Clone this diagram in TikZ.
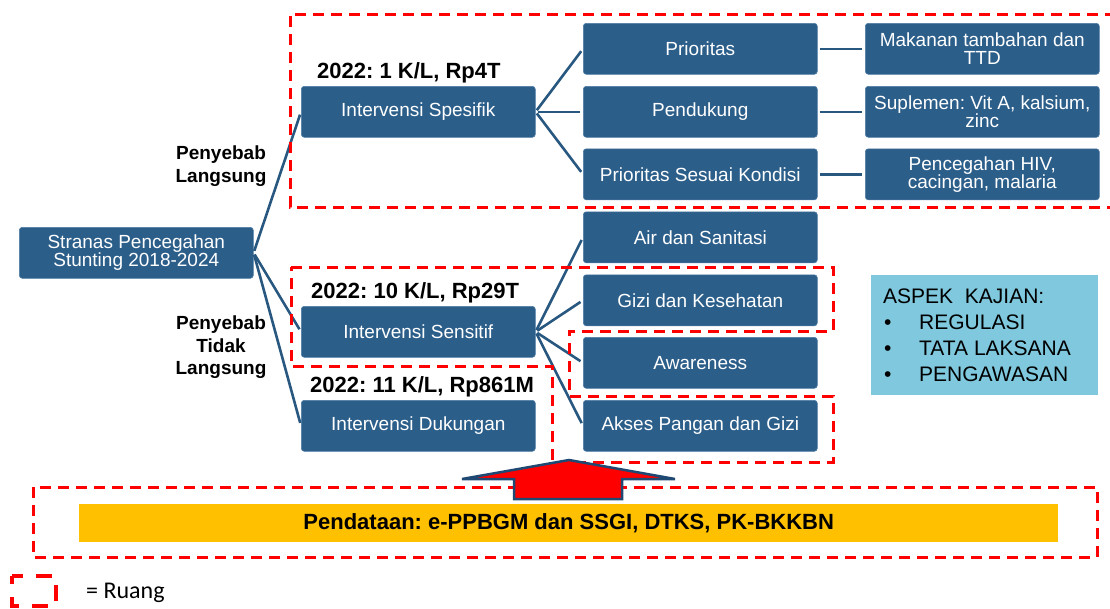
\documentclass[tikz,border=0pt]{standalone}
\usepackage{fontspec}
\setmainfont{Liberation Sans}
\newfontfamily\carlitofont{Carlito}
\frenchspacing
\definecolor{boxblue}{RGB}{44,94,138}
\definecolor{boxedge}{RGB}{78,124,164}
\definecolor{linkblue}{RGB}{40,88,128}
\definecolor{ruangred}{RGB}{255,0,0}
\definecolor{barorange}{RGB}{255,192,0}
\definecolor{aspekblue}{RGB}{127,200,221}
\definecolor{arrowblue}{RGB}{31,73,115}
\begin{document}
\begin{tikzpicture}[x=1pt,y=-1pt,
  box/.style={rectangle, rounded corners=3pt, fill=boxblue, draw=boxedge, line width=0.6pt,
    minimum width=234pt, minimum height=51pt, inner sep=0pt, text=white, align=center,
    font=\fontsize{19}{18}\selectfont, anchor=north west},
  link/.style={draw=linkblue, line width=2.6pt, shorten <=2pt, shorten >=3pt},
  ruang/.style={draw=ruangred, line width=3pt, dash pattern=on 11pt off 7pt},
  lbl/.style={font=\bfseries\fontsize{22}{24}\selectfont, anchor=base west, inner sep=0pt},
  cause/.style={font=\bfseries\fontsize{19}{22}\selectfont, anchor=base, inner sep=0pt},
  aspt/.style={font=\fontsize{21}{24}\selectfont, anchor=base west, inner sep=0pt}]
\useasboundingbox (0,0) rectangle (1110,608);

% nodes
\node[box] (root) at (19,227) {Stranas Pencegahan\\Stunting 2018-2024};
\node[box] (spes) at (301,86) {Intervensi Spesifik};
\node[box] (sens) at (301,306) {Intervensi Sensitif};
\node[box] (duk) at (301,400) {Intervensi Dukungan};
\node[box] (prio) at (583,23) {Prioritas};
\node[box] (pend) at (583,86) {Pendukung};
\node[box] (psk) at (583,148.5) {Prioritas Sesuai Kondisi};
\node[box] (air) at (583,211.5) {Air dan Sanitasi};
\node[box] (gizi) at (583,274.5) {Gizi dan Kesehatan};
\node[box] (aware) at (583,337) {Awareness};
\node[box] (akses) at (583,400) {Akses Pangan dan Gizi};
\node[box] (mak) at (865,23) {Makanan tambahan dan\\TTD};
\node[box] (supl) at (865,86) {Suplemen: Vit A, kalsium,\\zinc};
\node[box] (penc) at (865,148.5) {Pencegahan HIV,\\cacingan, malaria};

% connectors
\draw[link] (root.east) -- (spes.west);
\draw[link] (root.east) -- (sens.west);
\draw[link] (root.east) -- (duk.west);
\draw[link] (spes.east) -- (prio.west);
\draw[link] (spes.east) -- (pend.west);
\draw[link] (spes.east) -- (psk.west);
\draw[link] (sens.east) -- (air.west);
\draw[link] (sens.east) -- (gizi.west);
\draw[link] (sens.east) -- (aware.west);
\draw[link] (sens.east) -- (akses.west);
\draw[link] (prio.east) -- (mak.west);
\draw[link] (pend.east) -- (supl.west);
\draw[link] (psk.east) -- (penc.west);

% labels
\node[lbl] (l1) at (317,78) {2022: 1 K/L, Rp4T};
\node[lbl] (l2) at (311,298) {2022: 10 K/L, Rp29T};
\node[lbl] (l3) at (310,392) {2022: 11 K/L, Rp861M};
\node[cause] (c1a) at (221,159) {Penyebab};
\node[cause] (c1b) at (221,182) {Langsung};
\node[cause] (c2a) at (221,329) {Penyebab};
\node[cause] (c2b) at (221,352) {Tidak};
\node[cause] (c2c) at (221,374) {Langsung};

% dashed spaces
\draw[ruang] (1116,14) -- (290,14) -- (290,207) -- (1116,207);
\draw[ruang] (291,267) -- (833,267) -- (833,331) -- (569,331) -- (569,396) -- (833,396)
  -- (833,462) -- (552,462) -- (552,366) -- (291,366) -- cycle;
\draw[ruang] (33,487) rectangle (1097,557);

% data bar
\node[fill=barorange, minimum width=979pt, minimum height=38pt, inner sep=0pt, anchor=north west,
  font=\bfseries\fontsize{22}{24}\selectfont] (bar) at (79,504) {Pendataan: e-PPBGM dan SSGI, DTKS, PK-BKKBN};

% arrow
\draw[fill=red, draw=arrowblue, line width=2.5pt, line join=miter]
  (569,460) -- (675,479) -- (622,479) -- (622,499) -- (514,499) -- (514,479) -- (462,479) -- cycle;

% aspek box
\node[fill=aspekblue, minimum width=227pt, minimum height=120pt, inner sep=0pt, anchor=north west] (aspek) at (871,275) {};
\node[aspt] (a0) at (883,303) {ASPEK\ \ KAJIAN:};
\node[aspt] (b1) at (884,329) {•};
\node[aspt] (a1) at (919,329) {REGULASI};
\node[aspt] (b2) at (884,355) {•};
\node[aspt] (a2) at (919,355) {TATA LAKSANA};
\node[aspt] (b3) at (884,381) {•};
\node[aspt] (a3) at (919,381) {PENGAWASAN};

% legend
\draw[draw=ruangred, line width=4.5pt, dash pattern=on 16pt off 13pt, dash phase=8pt] (12,576) rectangle (56,606);
\node[font=\carlitofont\fontsize{24}{26}\selectfont, anchor=base west, inner sep=0pt] (ruang) at (86,598) {= Ruang};
\end{tikzpicture}
\end{document}
